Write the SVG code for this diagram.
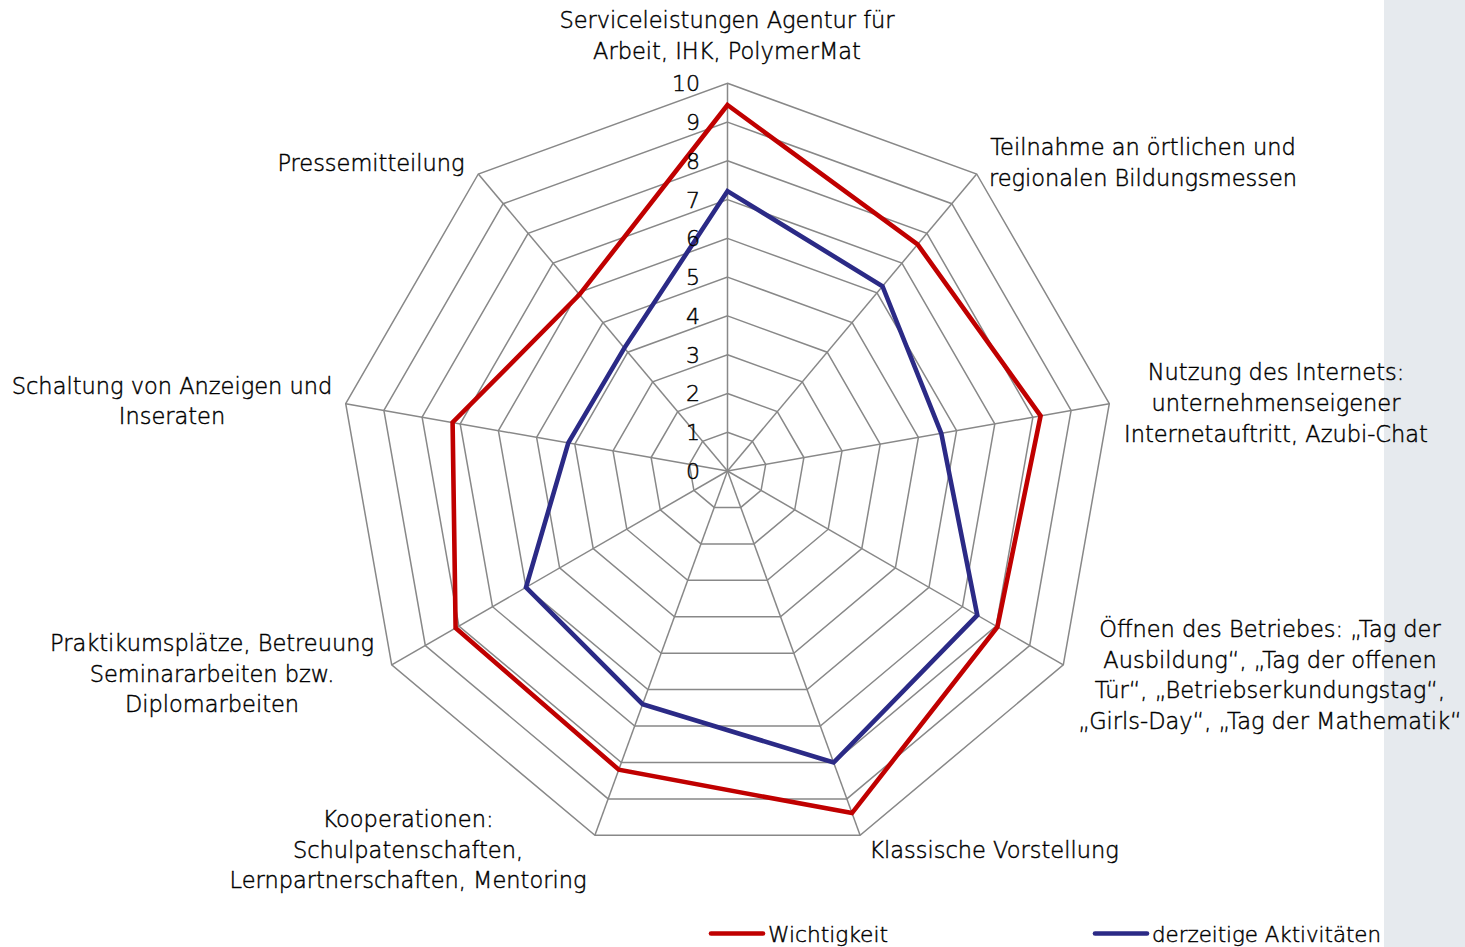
<svg xmlns="http://www.w3.org/2000/svg" width="1465" height="947" viewBox="0 0 1465 947">
<style>
.grid{fill:none;stroke:#888888;stroke-width:1.5}
.spoke{stroke:#888888;stroke-width:1.5}
.lbl{font-family:"DejaVu Sans","Liberation Sans",sans-serif;font-weight:300;font-size:22.5px;fill:#000;stroke:#000;stroke-width:0.45;text-anchor:middle}
.num{font-family:"DejaVu Sans","Liberation Sans",sans-serif;font-weight:300;font-size:22px;fill:#000;stroke:#000;stroke-width:0.45;text-anchor:end}
.leg{font-family:"DejaVu Sans","Liberation Sans",sans-serif;font-weight:300;font-size:21px;fill:#000;stroke:#000;stroke-width:0.45}
.red{fill:none;stroke:#c00000;stroke-width:4.6;stroke-linejoin:miter;stroke-miterlimit:10}
.blue{fill:none;stroke:#2b2a86;stroke-width:4.6;stroke-linejoin:miter;stroke-miterlimit:10}
</style>
<rect x="0" y="0" width="1465" height="947" fill="#ffffff"/>
<rect id="side-band" x="1384" y="0" width="81" height="947" fill="#e6eaee"/>
<g id="grid" transform="translate(727.5,471)">
<polygon class="grid" points="0,-38.8 24.9,-29.7 38.2,-6.7 33.6,19.4 13.3,36.4 -13.3,36.4 -33.6,19.4 -38.2,-6.7 -24.9,-29.7"/>
<polygon class="grid" points="0,-77.5 49.8,-59.4 76.4,-13.5 67.2,38.8 26.5,72.9 -26.5,72.9 -67.2,38.8 -76.4,-13.5 -49.8,-59.4"/>
<polygon class="grid" points="0,-116.3 74.8,-89.1 114.5,-20.2 100.7,58.2 39.8,109.3 -39.8,109.3 -100.7,58.2 -114.5,-20.2 -74.8,-89.1"/>
<polygon class="grid" points="0,-155.1 99.7,-118.8 152.7,-26.9 134.3,77.5 53.0,145.7 -53.0,145.7 -134.3,77.5 -152.7,-26.9 -99.7,-118.8"/>
<polygon class="grid" points="0,-193.9 124.6,-148.5 190.9,-33.7 167.9,96.9 66.3,182.2 -66.3,182.2 -167.9,96.9 -190.9,-33.7 -124.6,-148.5"/>
<polygon class="grid" points="0,-232.6 149.5,-178.2 229.1,-40.4 201.5,116.3 79.6,218.6 -79.6,218.6 -201.5,116.3 -229.1,-40.4 -149.5,-178.2"/>
<polygon class="grid" points="0,-271.4 174.4,-207.9 267.3,-47.1 235.0,135.7 92.8,255.0 -92.8,255.0 -235.0,135.7 -267.3,-47.1 -174.4,-207.9"/>
<polygon class="grid" points="0,-310.2 199.4,-237.6 305.4,-53.9 268.6,155.1 106.1,291.5 -106.1,291.5 -268.6,155.1 -305.4,-53.9 -199.4,-237.6"/>
<polygon class="grid" points="0,-348.9 224.3,-267.3 343.6,-60.6 302.2,174.5 119.3,327.9 -119.3,327.9 -302.2,174.5 -343.6,-60.6 -224.3,-267.3"/>
<polygon class="grid" points="0,-387.7 249.2,-297.0 381.8,-67.3 335.8,193.9 132.6,364.3 -132.6,364.3 -335.8,193.9 -381.8,-67.3 -249.2,-297.0"/>
<line class="spoke" x1="0" y1="0" x2="0" y2="-387.7"/>
<line class="spoke" x1="0" y1="0" x2="249.2" y2="-297.0"/>
<line class="spoke" x1="0" y1="0" x2="381.8" y2="-67.3"/>
<line class="spoke" x1="0" y1="0" x2="335.8" y2="193.9"/>
<line class="spoke" x1="0" y1="0" x2="132.6" y2="364.3"/>
<line class="spoke" x1="0" y1="0" x2="-132.6" y2="364.3"/>
<line class="spoke" x1="0" y1="0" x2="-335.8" y2="193.9"/>
<line class="spoke" x1="0" y1="0" x2="-381.8" y2="-67.3"/>
<line class="spoke" x1="0" y1="0" x2="-249.2" y2="-297.0"/>
</g>
<g id="connectors" transform="translate(727.5,471)">
<polygon id="series-wichtigkeit" class="red" points="0,-366.0 190.1,-226.6 313.1,-55.2 269.9,155.9 124.5,342.1 -108.7,298.7 -271.9,157.0 -274.9,-48.5 -148.0,-176.4"/>
<polygon id="series-aktivitaeten" class="blue" points="0,-279.9 155.0,-184.8 213.8,-37.7 249.8,144.2 106.1,291.5 -84.9,233.2 -201.5,116.3 -159.2,-28.1 -103.2,-122.9"/>
</g>
<g id="scale-labels">
<text class="num" x="700" y="479">0</text>
<text class="num" x="700" y="440">1</text>
<text class="num" x="700" y="401">2</text>
<text class="num" x="700" y="363">3</text>
<text class="num" x="700" y="324">4</text>
<text class="num" x="700" y="285">5</text>
<text class="num" x="700" y="246">6</text>
<text class="num" x="700" y="208">7</text>
<text class="num" x="700" y="169">8</text>
<text class="num" x="700" y="130">9</text>
<text class="num" x="700" y="91">10</text>
</g>
<g id="cat-serviceleistungen">
<text class="lbl" x="727" y="28">Serviceleistungen Agentur für</text>
<text class="lbl" x="727" y="59">Arbeit, IHK, PolymerMat</text>
</g>
<g id="cat-teilnahme">
<text class="lbl" x="1143" y="155">Teilnahme an örtlichen und</text>
<text class="lbl" x="1143" y="186">regionalen Bildungsmessen</text>
</g>
<g id="cat-internet">
<text class="lbl" x="1276" y="380">Nutzung des Internets:</text>
<text class="lbl" x="1276" y="411">unternehmenseigener</text>
<text class="lbl" x="1276" y="442">Internetauftritt, Azubi-Chat</text>
</g>
<g id="cat-oeffnen">
<text class="lbl" x="1270" y="637">Öffnen des Betriebes: „Tag der</text>
<text class="lbl" x="1270" y="668">Ausbildung“, „Tag der offenen</text>
<text class="lbl" x="1270" y="698">Tür“, „Betriebserkundungstag“,</text>
<text class="lbl" x="1270" y="729">„Girls-Day“, „Tag der Mathematik“</text>
</g>
<g id="cat-klassisch">
<text class="lbl" x="994" y="858">Klassische Vorstellung</text>
</g>
<g id="cat-kooperationen">
<text class="lbl" x="408" y="827">Kooperationen:</text>
<text class="lbl" x="408" y="858">Schulpatenschaften,</text>
<text class="lbl" x="408" y="888">Lernpartnerschaften, Mentoring</text>
</g>
<g id="cat-praktikum">
<text class="lbl" x="212" y="651">Praktikumsplätze, Betreuung</text>
<text class="lbl" x="212" y="682">Seminararbeiten bzw.</text>
<text class="lbl" x="212" y="712">Diplomarbeiten</text>
</g>
<g id="cat-schaltung">
<text class="lbl" x="172" y="394">Schaltung von Anzeigen und</text>
<text class="lbl" x="172" y="424">Inseraten</text>
</g>
<g id="cat-presse">
<text class="lbl" x="371" y="171">Pressemitteilung</text>
</g>
<g id="legend">
<line x1="711" y1="933.5" x2="763" y2="933.5" stroke="#c00000" stroke-width="4.6" stroke-linecap="round"/>
<text class="leg" x="768" y="942" textLength="120" lengthAdjust="spacingAndGlyphs">Wichtigkeit</text>
<line x1="1095" y1="933.5" x2="1147" y2="933.5" stroke="#2b2a86" stroke-width="4.6" stroke-linecap="round"/>
<text class="leg" x="1152" y="942" textLength="229" lengthAdjust="spacingAndGlyphs">derzeitige Aktivitäten</text>
</g>
</svg>
